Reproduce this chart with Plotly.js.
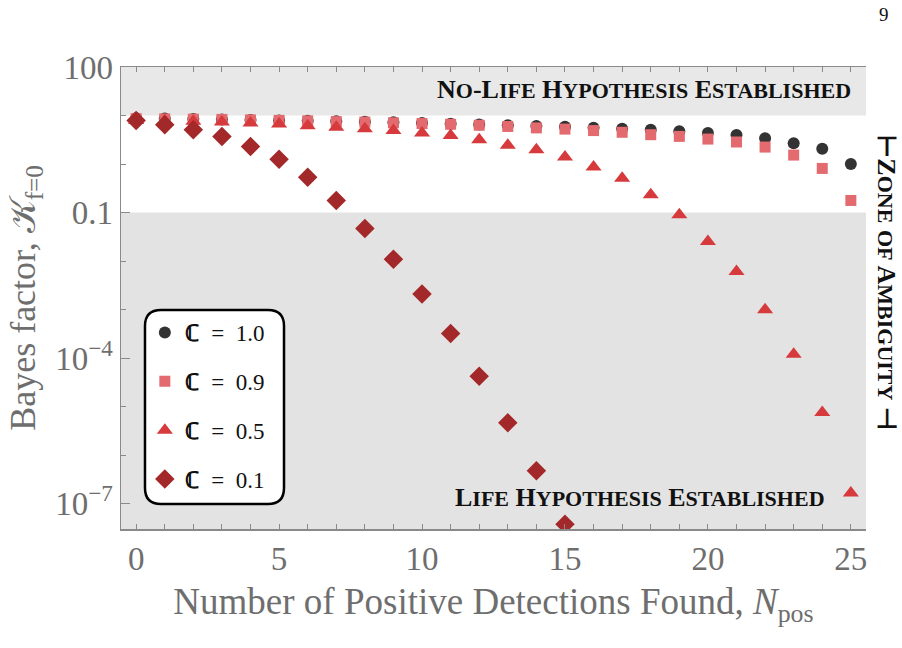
<!DOCTYPE html>
<html>
<head>
<meta charset="utf-8">
<script src="https://cdn.plot.ly/plotly-3.0.1.min.js"></script>
<style>html,body{margin:0;padding:0;background:#fff;}</style>
</head>
<body>
<div id="chart" style="width:902px;height:648px;"></div>
<script>
// Number of positive detections
const nPos = [0,1,2,3,4,5,6,7,8,9,10,11,12,13,14,15,16,17,18,19,20,21,22,23,24,25];
const nPosDiamond = [0,1,2,3,4,5,6,7,8,9,10,11,12,13,14,15];

// log10 of Bayes factor K_{f=0}
const log10K_C10 = [0.945,0.94,0.93,0.92,0.91,0.90,0.89,0.88,0.87,0.86,0.845,0.83,0.815,0.80,0.785,0.77,0.75,0.73,0.705,0.675,0.64,0.60,0.53,0.43,0.315,0.0];
const log10K_C09 = [0.935,0.93,0.925,0.92,0.91,0.90,0.89,0.875,0.865,0.85,0.835,0.82,0.80,0.775,0.745,0.72,0.69,0.655,0.605,0.57,0.515,0.455,0.35,0.185,-0.09,-0.75];
const log10K_C05 = [0.90,0.89,0.88,0.865,0.845,0.825,0.79,0.76,0.73,0.69,0.64,0.59,0.50,0.39,0.295,0.145,-0.06,-0.29,-0.63,-1.045,-1.595,-2.215,-3.0,-3.92,-5.12,-6.78];
const log10K_C01 = [0.90,0.81,0.705,0.57,0.36,0.10,-0.27,-0.75,-1.33,-1.96,-2.68,-3.49,-4.37,-5.33,-6.32,-7.42];

const seriesNames = ['<b>ℂ</b>\u2002=\u20021.0','<b>ℂ</b>\u2002=\u20020.9','<b>ℂ</b>\u2002=\u20020.5','<b>ℂ</b>\u2002=\u20020.1'];

const xTickVals = nPos;
const xTickText = ['0','','','','','5','','','','','10','','','','','15','','','','','20','','','','','25'];
const yTickVals = [100, 0.1, 1e-4, 1e-7];
const yTickText = ['100','0.1','10<sup>−4</sup>','10<sup>−7</sup>'];
const yMinorVals = [10, 1, 0.01, 1e-3, 1e-5, 1e-6];
const eFoldExponents = [4,3,2,1,0,-1,-2,-3,-4,-5,-6,-7,-8,-9,-10,-11,-12,-13,-14,-15,-16,-17];

const topLabel = 'No-Life Hypothesis Established';
const bottomLabel = 'Life Hypothesis Established';
const sideLabel = '⊢Zone of Ambiguity ⊣';

const toK = a => a.map(v => Math.pow(10, v));

// render text as small caps: lowercase letters become smaller capitals
function smallCaps(str, smallSize) {
  let out = '', run = '';
  const flush = () => { if (run) { out += `<span style="font-size:${smallSize}px">${run.toUpperCase()}</span>`; run=''; } };
  for (const ch of str) {
    if (ch !== ch.toUpperCase()) { run += ch; } else { flush(); out += ch; }
  }
  flush();
  return out;
}

const FONT = 'Liberation Serif, Times New Roman, serif';
const GRAY = '#6e6e6e';
const AX = '#8a8a8a';

const traces = [
  {x: nPos, y: toK(log10K_C10), name: seriesNames[0], legendgroup:'a', mode:'markers', type:'scatter',
   marker:{symbol:'circle', size:12, color:'#333333'}},
  {x: nPos, y: toK(log10K_C09), name: seriesNames[1], legendgroup:'b', mode:'markers', type:'scatter',
   marker:{symbol:'square', size:11, color:'#e36a6e'}},
  {x: nPos, y: toK(log10K_C05), name: seriesNames[2], legendgroup:'c', mode:'markers', type:'scatter',
   marker:{symbol:'triangle-up', size:14, color:'#d63a3c'}},
  {x: nPosDiamond, y: toK(log10K_C01), name: seriesNames[3], legendgroup:'d', mode:'markers', type:'scatter',
   marker:{symbol:'diamond', size:15, color:'#a3282a'}}
];

// legend box geometry (paper coords)
const bx0 = 0.0322, bx1 = 0.2188, byT = 0.474, byB = 0.054, rx = 0.0215, ry = 0.0346;
const boxPath = `M ${bx0+rx},${byT} L ${bx1-rx},${byT} Q ${bx1},${byT} ${bx1},${byT-ry} L ${bx1},${byB+ry} Q ${bx1},${byB} ${bx1-rx},${byB} L ${bx0+rx},${byB} Q ${bx0},${byB} ${bx0},${byB+ry} L ${bx0},${byT-ry} Q ${bx0},${byT} ${bx0+rx},${byT} Z`;

const scFont = {family: FONT, size: 26, color:'#111', weight:'bold'};
const SMALL = 22;

const layout = {
  width: 902, height: 648,
  margin: {l:121, r:36, t:67, b:119},
  paper_bgcolor:'#ffffff', plot_bgcolor:'#ffffff',
  showlegend: true,
  xaxis: {
    range:[-0.53, 25.53], tickmode:'array', tickvals:xTickVals, ticktext:xTickText,
    ticks:'inside', ticklen:5, tickwidth:1, tickcolor:AX,
    showline:true, linecolor:AX, linewidth:1.5, mirror:'ticks',
    showgrid:false, zeroline:false,
    tickfont:{family:FONT, size:33, color:GRAY},
    title:{text:'Number of Positive Detections Found, <i>N</i><sub>pos</sub>', font:{family:FONT, size:37, color:GRAY}, standoff:12}
  },
  yaxis: {
    type:'log', range:[-7.52, 2], tickmode:'array', tickvals:yTickVals, ticktext:yTickText,
    ticks:'inside', ticklen:9, tickwidth:1, tickcolor:AX,
    minor:{tickmode:'array', tickvals:yMinorVals, ticks:'inside', ticklen:5, tickcolor:AX, showgrid:false},
    showline:true, linecolor:AX, linewidth:1.5,
    showgrid:false, zeroline:false,
    tickfont:{family:FONT, size:33, color:GRAY},
    title:{text:'Bayes factor, 𝒦<sub>f=0</sub>', font:{family:FONT, size:36, color:GRAY}, standoff:8}
  },
  yaxis2: {
    type:'log', range:[-7.52, 2], overlaying:'y', side:'right', anchor:'x',
    tickmode:'array', tickvals: eFoldExponents.map(k => Math.exp(k)),
    showticklabels:false, ticks:'inside', ticklen:6, tickcolor:AX,
    showline:true, linecolor:AX, linewidth:1.5, showgrid:false, zeroline:false
  },
  legend: {
    x:0.032, xanchor:'left', y:0.472, yanchor:'top',
    bgcolor:'rgba(0,0,0,0)', borderwidth:0,
    font:{family:FONT, size:23, color:'#111'},
    tracegroupgap:16, traceorder:'grouped'
  },
  shapes: [
    {type:'rect', xref:'paper', yref:'y', x0:0, x1:1, y0:10, y1:1000, fillcolor:'#e8e8e8', line:{width:0}, layer:'below'},
    {type:'rect', xref:'paper', yref:'y', x0:0, x1:1, y0:1e-10, y1:0.1, fillcolor:'#e3e3e3', line:{width:0}, layer:'below'},
    {type:'path', xref:'paper', yref:'paper', path: boxPath, fillcolor:'#ffffff', line:{color:'#000', width:2.5}, layer:'above'}
  ],
  annotations: [
    {text:smallCaps(topLabel, SMALL), xref:'paper', yref:'paper', x:0.9826, y:0.952, xanchor:'right', yanchor:'middle', showarrow:false, font:scFont},
    {text:smallCaps(bottomLabel, SMALL), xref:'paper', yref:'paper', x:0.9477, y:0.069, xanchor:'right', yanchor:'middle', showarrow:false, font:scFont},
    {text:smallCaps(sideLabel, SMALL), xref:'paper', yref:'paper', x:1.028, y:0.532, xanchor:'center', yanchor:'middle', textangle:90, showarrow:false, font:scFont},
    {text:'9', xref:'paper', yref:'paper', x:1.024, y:1.1126, xanchor:'center', yanchor:'middle', showarrow:false, font:{family:FONT, size:19, color:'#111'}}
  ]
};

Plotly.newPlot('chart', traces, layout, {displayModeBar:false, staticPlot:true});
</script>
</body>
</html>
